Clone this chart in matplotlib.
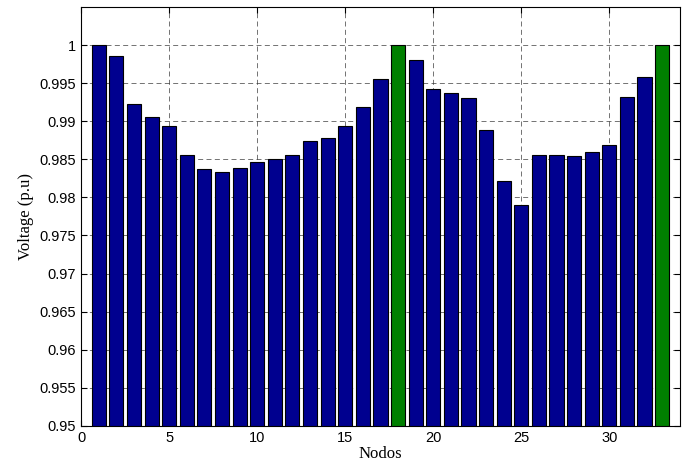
import numpy as np
import matplotlib
matplotlib.use('Agg')
from matplotlib import pyplot as plt

# Bus voltages
nodes = np.arange(1, 34)
voltage = [1.0000, 0.9986, 0.9923, 0.9906, 0.9894, 0.9856, 0.9837, 0.9834,
           0.9838, 0.9847, 0.9850, 0.9856, 0.9874, 0.9878, 0.9894, 0.9919,
           0.9955, 1.0000, 0.9980, 0.9943, 0.9937, 0.9930, 0.9888, 0.9822,
           0.9790, 0.9856, 0.9856, 0.9855, 0.9859, 0.9869, 0.9932, 0.9958,
           1.0000]
green_nodes = [18, 33]

colors = ['#008000' if n in green_nodes else '#00008F' for n in nodes]

fig = plt.figure(figsize=(6.88, 4.70), dpi=100)
ax = fig.add_axes([0.118, 0.094, 0.870, 0.891])

ax.bar(nodes, voltage, width=0.8, color=colors, edgecolor='black',
       linewidth=0.8, zorder=2)

ax.set_xlim(0, 34)
ax.set_ylim(0.95, 1.005)
ax.set_xticks(np.arange(0, 31, 5))
yt = np.arange(0.95, 1.0001, 0.005)
ax.set_yticks(yt)
ax.set_yticklabels(['%g' % round(v, 3) for v in yt])

ax.grid(True, color='#333333', linestyle=(0, (6, 4)), linewidth=0.6, alpha=0.8, zorder=0)
ax.set_axisbelow(True)
ax.tick_params(direction='in', length=4, labelsize=10.5, width=0.8,
               top=True, right=True)
for lab in ax.get_xticklabels() + ax.get_yticklabels():
    lab.set_family('Liberation Sans')
for sp in ax.spines.values():
    sp.set_linewidth(0.8)

ax.set_xlabel('Nodos', family='Liberation Serif', fontsize=12, labelpad=1)
ax.set_ylabel('Voltage (p.u)', family='Liberation Serif', fontsize=12, labelpad=4)

fig.savefig('out.png', dpi=100)
